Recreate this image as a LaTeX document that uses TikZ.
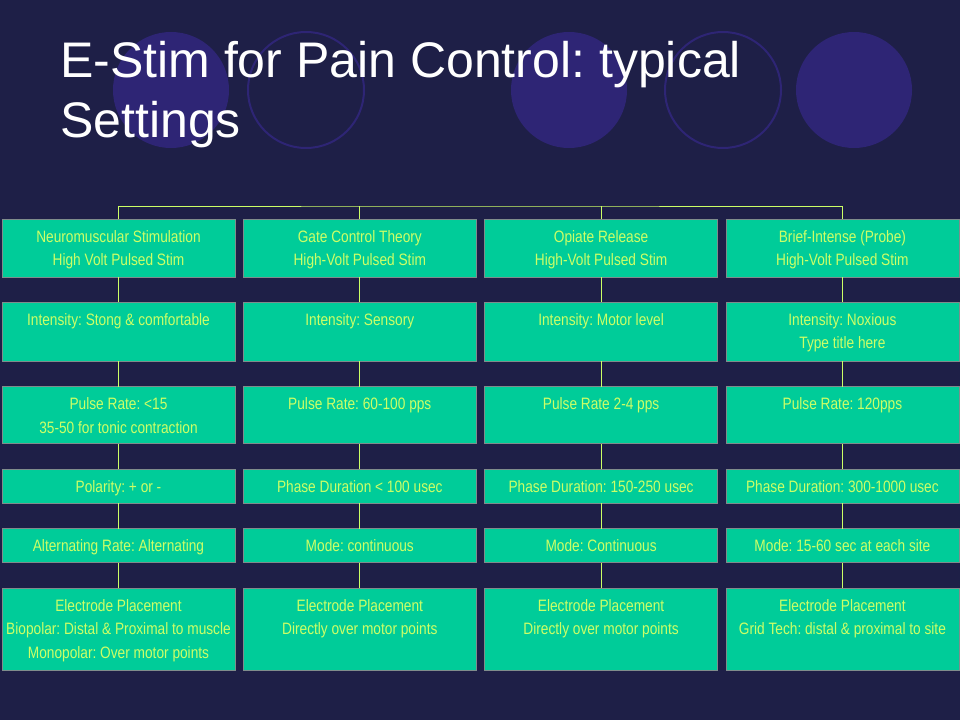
\documentclass[tikz,border=0pt]{standalone}
\usepackage{fontspec}
\usepackage{tikz}
\usetikzlibrary{positioning}

\newfontfamily\titlefont{Liberation Sans}
\newfontfamily\boxfont[FakeStretch=0.83]{Liberation Sans}
\frenchspacing

\definecolor{slidebg}{HTML}{1E1F47}
\definecolor{dotblue}{HTML}{2E2575}
\definecolor{cellfill}{HTML}{00CC99}
\definecolor{celltext}{HTML}{CCFF66}
\definecolor{celledge}{HTML}{7F8C8C}

% box of fixed height, text at the top
\newcommand{\cellbox}[2]{\parbox[c][#1pt][t]{233pt}{\centering\rule{0pt}{23pt}#2}}

\begin{document}
\begin{tikzpicture}[x=1pt, y=-1pt,
    cell/.style={rectangle, draw=celledge, line width=0.8pt, fill=cellfill,
                 inner sep=0pt, outer sep=0pt, text=celltext,
                 font=\boxfont\fontsize{16.5}{23.5}\selectfont},
    link/.style={draw=celltext, line width=1pt},
    node distance=25.4pt and 8.3pt]

    % Background
    \fill[slidebg] (0,0) rectangle (960,720);
    \useasboundingbox (0,0) rectangle (960,720);

    % Circles
    \fill[dotblue] (171,90) circle[radius=58];
    \draw[dotblue, line width=2pt] (306,90) circle[radius=58];
    \fill[dotblue] (569,90) circle[radius=58];
    \draw[dotblue, line width=2pt] (723,90) circle[radius=58];
    \fill[dotblue] (854,90) circle[radius=58];

    % Title
    \node[anchor=north west, inner sep=0pt, align=left, text=white,
          font=\titlefont\fontsize{50}{60}\selectfont] (title) at (60,37) {
        \rule{0pt}{40pt}E-Stim for Pain Control: typical\\
        Settings
    };

    % First row
    \node[cell, anchor=north] (n11) at (118.5,219) {\cellbox{58}{Neuromuscular Stimulation\\High Volt Pulsed Stim}};
    \node[cell, right=of n11] (n21) {\cellbox{58}{Gate Control Theory\\High-Volt Pulsed Stim}};
    \node[cell, right=of n21] (n31) {\cellbox{58}{Opiate Release\\High-Volt Pulsed Stim}};
    \node[cell, right=of n31] (n41) {\cellbox{58}{Brief-Intense (Probe)\\High-Volt Pulsed Stim}};

    % Intensity
    \node[cell, below=of n11] (n12) {\cellbox{59}{Intensity: Stong \& comfortable}};
    \node[cell, below=of n21] (n22) {\cellbox{59}{Intensity: Sensory}};
    \node[cell, below=of n31] (n32) {\cellbox{59}{Intensity: Motor level}};
    \node[cell, below=of n41] (n42) {\cellbox{59}{Intensity: Noxious\\Type title here}};

    % Pulse rate
    \node[cell, below=of n12] (n13) {\cellbox{57}{Pulse Rate: \textless15\\35-50 for tonic contraction}};
    \node[cell, below=of n22] (n23) {\cellbox{57}{Pulse Rate: 60-100 pps}};
    \node[cell, below=of n32] (n33) {\cellbox{57}{Pulse Rate 2-4 pps}};
    \node[cell, below=of n42] (n43) {\cellbox{57}{Pulse Rate: 120pps}};

    % Polarity / phase duration
    \node[cell, below=of n13] (n14) {\cellbox{34}{Polarity: + or -}};
    \node[cell, below=of n23] (n24) {\cellbox{34}{Phase Duration \textless{} 100 usec}};
    \node[cell, below=of n33] (n34) {\cellbox{34}{Phase Duration: 150-250 usec}};
    \node[cell, below=of n43] (n44) {\cellbox{34}{Phase Duration: 300-1000 usec}};

    % Mode
    \node[cell, below=of n14] (n15) {\cellbox{34}{Alternating Rate: Alternating}};
    \node[cell, below=of n24] (n25) {\cellbox{34}{Mode: continuous}};
    \node[cell, below=of n34] (n35) {\cellbox{34}{Mode: Continuous}};
    \node[cell, below=of n44] (n45) {\cellbox{34}{Mode: 15-60 sec at each site}};

    % Electrode placement
    \node[cell, below=of n15] (n16) {\cellbox{82}{Electrode Placement\\Biopolar: Distal \& Proximal to muscle\\Monopolar: Over motor points}};
    \node[cell, below=of n25] (n26) {\cellbox{82}{Electrode Placement\\Directly over motor points}};
    \node[cell, below=of n35] (n36) {\cellbox{82}{Electrode Placement\\Directly over motor points}};
    \node[cell, below=of n45] (n46) {\cellbox{82}{Electrode Placement\\Grid Tech: distal \& proximal to site}};

    % Top bus
    \coordinate (bus) at (480,206);
    \draw[link] (n11.north) |- (bus) -| (n41.north);
    \draw[link] (n21.north) -- (n21.north |- bus);
    \draw[link] (n31.north) -- (n31.north |- bus);

    % Column links
    \foreach \c in {1,...,4}
        \foreach \r/\s in {1/2, 2/3, 3/4, 4/5, 5/6}
            \draw[link] (n\c\r.south) -- (n\c\s.north);

\end{tikzpicture}
\end{document}
